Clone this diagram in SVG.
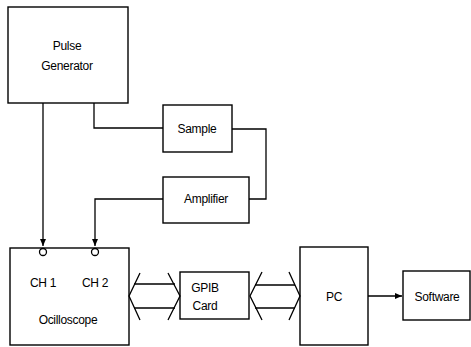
<svg xmlns="http://www.w3.org/2000/svg" width="471" height="347" viewBox="0 0 471 347">
<style>
.box{fill:none;stroke:#000;stroke-width:1.4}
.ln{fill:none;stroke:#000;stroke-width:1.3}
text{font-family:"Liberation Sans",Arial,sans-serif;font-size:12px;fill:#000;text-anchor:middle;letter-spacing:-0.3px}
</style>
<defs>
<marker id="ah" markerWidth="8" markerHeight="8" refX="7" refY="4" orient="auto" markerUnits="userSpaceOnUse">
<path d="M0,1 L7,4 L0,7 Z" fill="#000"/>
</marker>
</defs>
<rect width="471" height="347" fill="#fff"/>
<g id="connectors">
<path class="ln" d="M43,103 V246" marker-end="url(#ah)"/>
<path class="ln" d="M94,103 V128 H163"/>
<path class="ln" d="M232,129 H266 V199 H249"/>
<path class="ln" d="M163,199 H95 V246" marker-end="url(#ah)"/>
<circle class="ln" cx="43" cy="252" r="3.5"/>
<circle class="ln" cx="95" cy="252" r="3.5"/>
<g id="bus1">
<path class="ln" d="M140,273 L129,296 L140,320"/>
<path class="ln" d="M168,273 L180,296 L168,320"/>
<path class="ln" d="M134,284 H175 M134,308 H175"/>
</g>
<g id="bus2">
<path class="ln" d="M262,272 L250,296 L262,320"/>
<path class="ln" d="M289,272 L300,296 L289,320"/>
<path class="ln" d="M255,285 H295 M255,308 H295"/>
</g>
<path class="ln" d="M368,296 H402" marker-end="url(#ah)"/>
</g>
<g id="pulse-generator">
<rect class="box" x="8" y="7" width="120" height="96"/>
<text x="67" y="50">Pulse</text>
<text x="67" y="70">Generator</text>
</g>
<g id="sample">
<rect class="box" x="163" y="105" width="69" height="47"/>
<text x="197" y="133">Sample</text>
</g>
<g id="amplifier">
<rect class="box" x="163" y="177" width="86" height="46"/>
<text x="206" y="203">Amplifier</text>
</g>
<g id="oscilloscope">
<rect class="box" x="10" y="248" width="119" height="97"/>
<text x="43" y="287">CH 1</text>
<text x="95" y="287">CH 2</text>
<text x="68" y="324">Ocilloscope</text>
</g>
<g id="gpib">
<rect class="box" x="180" y="272" width="69" height="47"/>
<text x="205" y="292">GPIB</text>
<text x="205" y="310">Card</text>
</g>
<g id="pc">
<rect class="box" x="300" y="247" width="68" height="98"/>
<text x="334" y="301">PC</text>
</g>
<g id="software">
<rect class="box" x="403" y="271" width="67" height="49"/>
<text x="437" y="301">Software</text>
</g>
</svg>
